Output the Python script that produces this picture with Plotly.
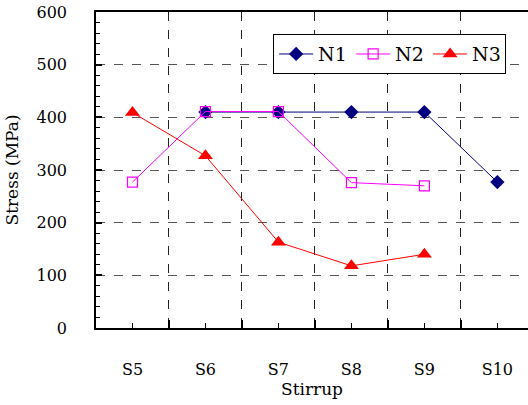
import plotly.graph_objects as go

categories = ["S5", "S6", "S7", "S8", "S9", "S10"]
n1 = [None, 410, 410, 410, 410, 277]
n2 = [277, 411, 411, 276, 270, None]
n3 = [409, 327, 163, 118, 140, None]

xs = list(range(len(categories)))
font_family = "DejaVu Serif"

fig = go.Figure()
fig.add_trace(go.Scatter(x=xs, y=n1, name="N1", mode="lines+markers",
                         line=dict(color="#000080", width=1),
                         marker=dict(symbol="diamond", size=11, color="#000080")))
fig.add_trace(go.Scatter(x=xs, y=n2, name="N2", mode="lines+markers",
                         line=dict(color="#FF00FF", width=1),
                         marker=dict(symbol="square-open", size=10, color="#FF00FF",
                                     line=dict(width=1.2, color="#FF00FF"))))
fig.add_trace(go.Scatter(x=xs, y=n3, name="N3", mode="lines+markers",
                         line=dict(color="#FF0000", width=1),
                         marker=dict(symbol="triangle-up", size=13, color="#FF0000")))

fig.update_layout(
    width=528, height=405,
    margin=dict(l=96, r=0, t=12, b=77, autoexpand=False),
    paper_bgcolor="white", plot_bgcolor="white",
    font=dict(family=font_family, size=16, color="black"),
    legend=dict(orientation="h", x=0.41, y=0.93, xanchor="left", yanchor="top",
                bordercolor="black", borderwidth=1, bgcolor="white",
                font=dict(family=font_family, size=19), itemwidth=34,
                entrywidth=28, entrywidthmode="pixels",
                tracegroupgap=0),
    xaxis=dict(
        range=[-0.5, 5.42], tickmode="array", tickvals=xs, ticktext=categories,
        showgrid=False, zeroline=False,
        showline=True, linecolor="black", linewidth=1.5, mirror=True,
        ticks="inside", ticklen=5, tickcolor="black", tickwidth=1,
        ticklabelstandoff=26,
        tickfont=dict(family=font_family, size=16),
        minor=dict(tickmode="array", tickvals=[i + 0.5 for i in range(-1, 6)],
                   ticks="inside", ticklen=8, tickcolor="black", tickwidth=1.5,
                   showgrid=True, gridcolor="#222222", griddash="dash", gridwidth=1),
        title=dict(text="Stirrup", standoff=2, font=dict(family=font_family, size=17)),
    ),
    yaxis=dict(
        range=[0, 600], dtick=100, tick0=0,
        showgrid=True, gridcolor="#555555", griddash="dash", gridwidth=1,
        zeroline=False,
        showline=True, linecolor="black", linewidth=1.5, mirror=True,
        ticks="inside", ticklen=6, tickcolor="black", tickwidth=1.5,
        ticklabelstandoff=24,
        tickfont=dict(family=font_family, size=16),
        minor=dict(dtick=20, ticks="inside", ticklen=4, tickcolor="black",
                   tickwidth=1, showgrid=False),
        title=dict(text="Stress (MPa)", standoff=14, font=dict(family=font_family, size=17)),
    ),
)

fig.write_html("out.html", config={"displayModeBar": False},
               post_script="document.body.style.margin='0';")
